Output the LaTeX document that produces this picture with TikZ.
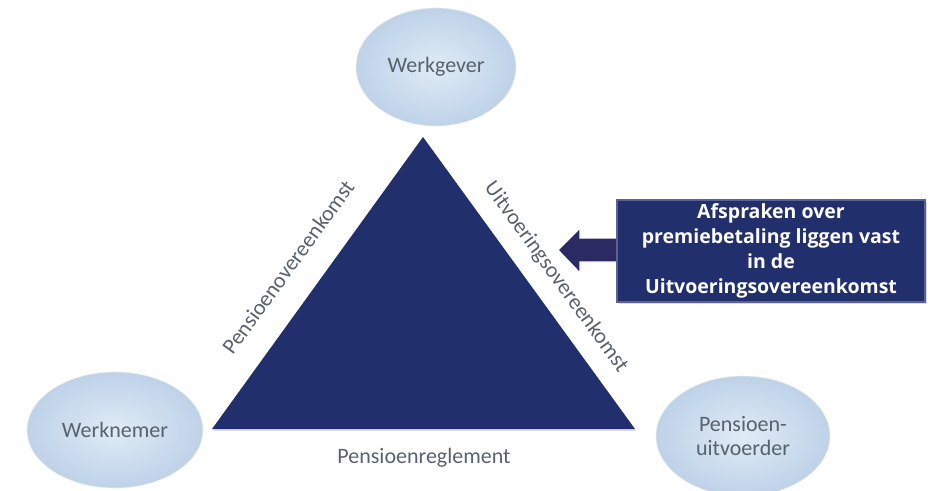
\documentclass[tikz,border=0pt]{standalone}
\usepackage{fontspec}
\setmainfont{Carlito}
\newfontfamily\boxfont[BoldFont={* Bold}]{Open Sans}
\usetikzlibrary{shapes.geometric,shadows}
\definecolor{navy}{RGB}{33,47,108}
\definecolor{arrownavy}{RGB}{44,42,98}
\definecolor{ellout}{RGB}{190,210,232}
\definecolor{ellin}{RGB}{224,235,246}
\definecolor{txtgray}{RGB}{88,98,108}
\tikzset{
  party/.style={ellipse, inner sep=0pt, draw=white!85!gray, line width=0.6pt,
    inner color=ellin, outer color=ellout, text=txtgray,
    font=\fontsize{22}{24}\selectfont, align=center},
  sidelabel/.style={text=txtgray, font=\fontsize{22}{24}\selectfont, inner sep=0pt},
  infobox/.style={fill=navy, draw=navy!75!white, line width=1.5pt, text=white,
    font=\boxfont\bfseries\fontsize{19.5}{25}\selectfont, align=center,
    minimum width=308pt, minimum height=102pt, inner sep=0pt,
    drop shadow={shadow xshift=2pt, shadow yshift=-2pt, opacity=0.3}}
}
\begin{document}
\begin{tikzpicture}[x=1pt,y=-1pt]
\useasboundingbox (0,0) rectangle (933,490);
% triangle
\coordinate (apex) at (423,137);
\coordinate (bl) at (212,429);
\coordinate (br) at (635,429);
\fill[navy, drop shadow={shadow xshift=1pt, shadow yshift=-2pt, opacity=0.25}] (apex) -- (br) -- (bl) -- cycle;
% parties
\node[party, minimum width=160pt, minimum height=118pt] (werkgever) at (436,67) {Werkgever};
\node[party, minimum width=176pt, minimum height=116pt] (werknemer) at (115,430) {Werknemer};
\node[party, minimum width=174pt, minimum height=120pt] (uitvoerder) at (743,436) {Pensioen-\\uitvoerder};
% side labels
\node[sidelabel, rotate=54] (po) at (288,267) {Pensioenovereenkomst};
\node[sidelabel, rotate=-54] (uo) at (556,277) {Uitvoeringsovereenkomst};
\node[sidelabel] (pr) at (424,458) {Pensioenreglement};
% arrow
\coordinate (tip) at (558,250);
\fill[arrownavy, draw=white, line width=1.2pt, line join=miter]
  (tip) -- (580,228) -- (580,238) -- (630,238) -- (630,262) -- (580,262) -- (580,273) -- cycle;
% info box
\node[infobox] (info) at (771,251) {Afspraken over\\premiebetaling liggen vast\\in de\\Uitvoeringsovereenkomst};
\end{tikzpicture}
\end{document}
